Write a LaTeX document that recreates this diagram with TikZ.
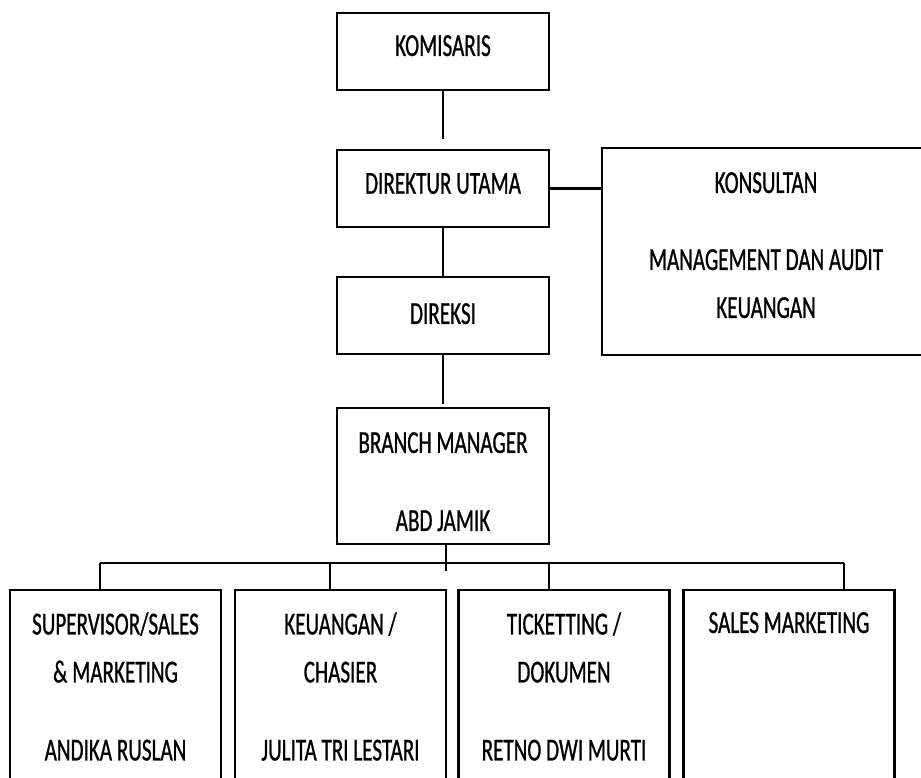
\documentclass[tikz,border=0pt]{standalone}
\usepackage{fontspec}
\newfontfamily\orgfont[FakeStretch=0.66,FakeBold=0.8]{Carlito}
\begin{document}
\begin{tikzpicture}[x=1pt,y=-1pt,
    box/.style={draw, line width=2.6pt, inner sep=0pt, minimum width=212pt},
    txt/.style={font=\orgfont\fontsize{32}{48}\selectfont, align=center, inner sep=0pt, anchor=north},
    link/.style={line width=2pt}]
    \useasboundingbox (0,0) rectangle (921,778);
    \clip (0,0) rectangle (921,778);

    % main line
    \node[box, minimum height=77pt] (komisaris) at (443,51.5) {};
    \node[box, minimum height=77pt] (dirut) at (443,188.5) {};
    \node[box, minimum height=77pt] (direksi) at (443,315.5) {};
    \node[box, minimum height=136pt] (branch) at (443,476) {};
    \node[box, minimum width=338pt, minimum height=207pt] (konsultan) at (771,251.5) {};

    % staff boxes, cut off below
    \foreach \x/\n in {115.5/supervisor,340.5/keuangan,564/ticketting,789/sales}
    {
        \node[box, minimum width=211pt, minimum height=240pt] (\n) at (\x,710) {};
    };

    % texts
    \node[txt] (komisaris-t) at (443,35) {KOMISARIS};
    \node[txt] (dirut-t) at (443,173) {DIREKTUR UTAMA};
    \node[txt] (direksi-t) at (443,303) {DIREKSI};
    \node[txt] (branch-t) at (443,432) {BRANCH MANAGER\\[30pt] ABD JAMIK};
    \node[txt] (konsultan-t) at (766,172) {KONSULTAN\\[29pt] MANAGEMENT DAN AUDIT\\ KEUANGAN};
    \node[txt] (supervisor-t) at (115.5,612) {SUPERVISOR/SALES\\ \& MARKETING\\[30pt] ANDIKA RUSLAN};
    \node[txt] (keuangan-t) at (340.5,612) {KEUANGAN /\\ CHASIER\\[30pt] JULITA TRI LESTARI};
    \node[txt] (ticketting-t) at (564,612) {TICKETTING /\\ DOKUMEN\\[30pt] RETNO DWI MURTI};
    \node[txt] (sales-t) at (789,612) {SALES MARKETING};

    % connectors
    \coordinate (komisaris-end) at (443,139);
    \coordinate (direksi-end) at (443,404);
    \coordinate (branch-end) at (446,571);
    \coordinate (bus-l) at (100,563);
    \coordinate (bus-r) at (844,563);
    \draw[link] (komisaris.south) -- (komisaris-end);
    \draw[link] (dirut.south) -- (direksi.north);
    \draw[link] (direksi.south) -- (direksi-end);
    \draw[line width=2.6pt] (dirut.east) -- (dirut.east -| konsultan.west);
    \draw[link] (branch.south -| branch-end) -- (branch-end);
    \draw[link] (bus-l) -- (bus-r);
    \foreach \x/\n in {100/supervisor,330/keuangan,549/ticketting,844/sales}
    {
        \draw[link] (\x,0 |- bus-l) -- (\x,0 |- \n.north);
    };
\end{tikzpicture}
\end{document}
